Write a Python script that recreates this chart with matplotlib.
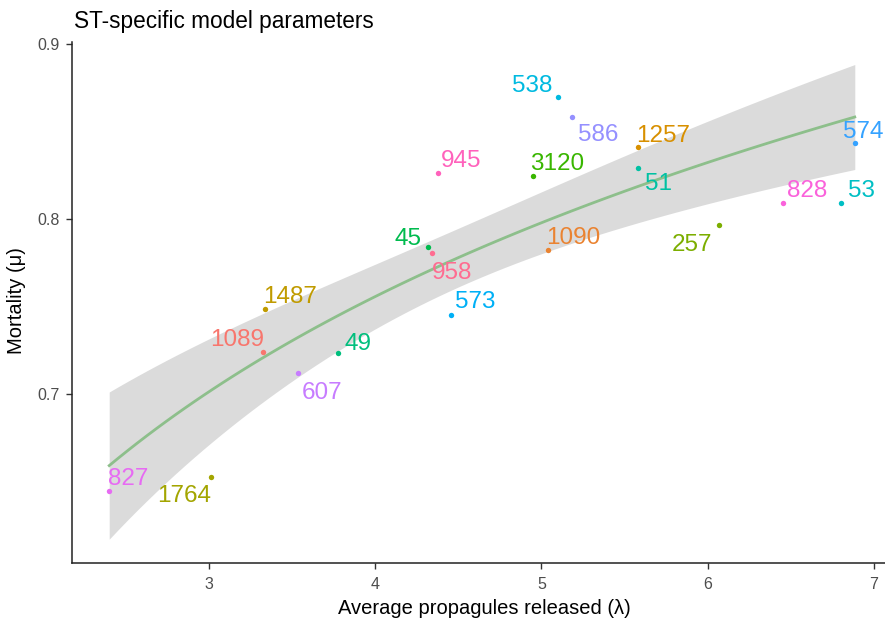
"""
ST-specific model parameters: mortality vs propagules released, with a fitted smooth
"""
import numpy as np
import matplotlib
matplotlib.use("Agg")
import matplotlib.pyplot as plt

plt.rcParams['font.family'] = ['Liberation Sans', 'DejaVu Sans']

# values
st_labels = ["827", "1764", "1089", "1487", "607", "49", "45", "958", "945", "573",
             "538", "586", "3120", "1257", "51", "1090", "257", "828", "53", "574"]
propagules = [2.398, 3.010, 3.325, 3.333, 3.532, 3.773, 4.319, 4.341, 4.380, 4.456,
              5.102, 5.185, 4.946, 5.580, 5.582, 5.040, 6.068, 6.454, 6.805, 6.886]
mortality = [0.6447, 0.6523, 0.7243, 0.7487, 0.7120, 0.7234, 0.7838, 0.7804, 0.8263, 0.7453,
             0.8699, 0.8587, 0.8244, 0.8415, 0.8291, 0.7826, 0.7964, 0.8090, 0.8090, 0.8437]

# ggplot hue palette, levels in alphabetical (string) order
hue_colors = ["#F8766D", "#EA8331", "#D89000", "#C09B00", "#A3A500", "#7CAE00", "#39B600",
              "#00BB4E", "#00BF7D", "#00C1A3", "#00BFC4", "#00BAE0", "#00B0F6", "#35A2FF",
              "#9590FF", "#C77CFF", "#E76BF3", "#FA62DB", "#FF62BC", "#FF6C91"]

# label placement: (ha, dx, dy) in pixels from the point to the text baseline corner
label_pos = {
    "827": ("left", -1, 6), "1764": ("right", 0, -25), "1089": ("right", 1, 6),
    "1487": ("left", -1, 6), "607": ("left", 4, -26), "49": ("left", 7, 3),
    "45": ("right", -7, 2), "958": ("left", 0, -26), "945": ("left", 2, 6),
    "573": ("left", 4, 7), "538": ("right", -6, 5), "586": ("left", 6, -24),
    "3120": ("left", -2, 6), "1257": ("left", -2, 5), "51": ("left", 7, -22),
    "1090": ("left", -2, 6), "257": ("right", -7, -26), "828": ("left", 4, 6),
    "53": ("left", 7, 6), "574": ("right", 29, 5),
}


def log_fit(x, y, xs):
    # lm(y ~ log(x)) with a 95% confidence band
    X = np.column_stack([np.ones_like(x), np.log(x)])
    beta, res, rank, sv = np.linalg.lstsq(X, y, rcond=None)
    n = len(x)
    s2 = np.sum((y - X @ beta) ** 2) / (n - 2)
    cov = s2 * np.linalg.inv(X.T @ X)
    Xs = np.column_stack([np.ones_like(xs), np.log(xs)])
    fit = Xs @ beta
    se = np.sqrt(np.einsum("ij,jk,ik->i", Xs, cov, Xs))
    t = 2.100922  # t(0.975, 18)
    return fit, fit - t * se, fit + t * se


x = np.array(propagules)
y = np.array(mortality)
levels = sorted(st_labels)
color_of = {lab: hue_colors[i] for i, lab in enumerate(levels)}

xs = np.linspace(x.min(), x.max(), 80)
fit, lo, hi = log_fit(x, y, xs)

fig = plt.figure(figsize=(8.85, 6.2), dpi=100)
ax = fig.add_axes([72 / 885, 57 / 620, 820 / 885, 521 / 620])

ax.fill_between(xs, lo, hi, color="#999999", alpha=0.35, linewidth=0, zorder=1)
ax.plot(xs, fit, color="#8DBF8B", lw=2.0, zorder=2)

for lab, xi, yi in zip(st_labels, propagules, mortality):
    c = color_of[lab]
    ax.scatter(xi, yi, s=15, color=c, zorder=4, linewidths=0)
    ha, dx, dy = label_pos[lab]
    ax.annotate(lab, (xi, yi), xytext=(dx, dy), textcoords="offset pixels",
                ha=ha, va="baseline", fontsize=17.5, color=c, zorder=3)

ax.set_xlim(2.174, 7.11)
ax.set_ylim(0.6034, 0.9013)
ax.set_xticks([3, 4, 5, 6, 7])
ax.set_yticks([0.7, 0.8, 0.9])
ax.set_yticklabels(["0.7", "0.8", "0.9"])
ax.tick_params(axis="both", labelsize=11.5, labelcolor="#4D4D4D", color="#333333",
               length=4, width=1.0)
ax.tick_params(axis="x", pad=6)
ax.tick_params(axis="y", pad=5)
for side in ["top", "right"]:
    ax.spines[side].set_visible(False)
for side in ["left", "bottom"]:
    ax.spines[side].set_color("#222222")
    ax.spines[side].set_linewidth(1.1)

fig.text(74 / 885, 1 - 28 / 620, "ST-specific model parameters", fontsize=16.3,
         ha="left", va="baseline", color="black")
fig.text(484 / 885, 1 - 614 / 620, "Average propagules released (λ)", fontsize=14.5,
         ha="center", va="baseline")
fig.text(17 / 885, 1 - 301 / 620, "Mortality (μ)", fontsize=14.5, rotation=90,
         ha="center", va="center")

fig.savefig("out.png", dpi=100)
